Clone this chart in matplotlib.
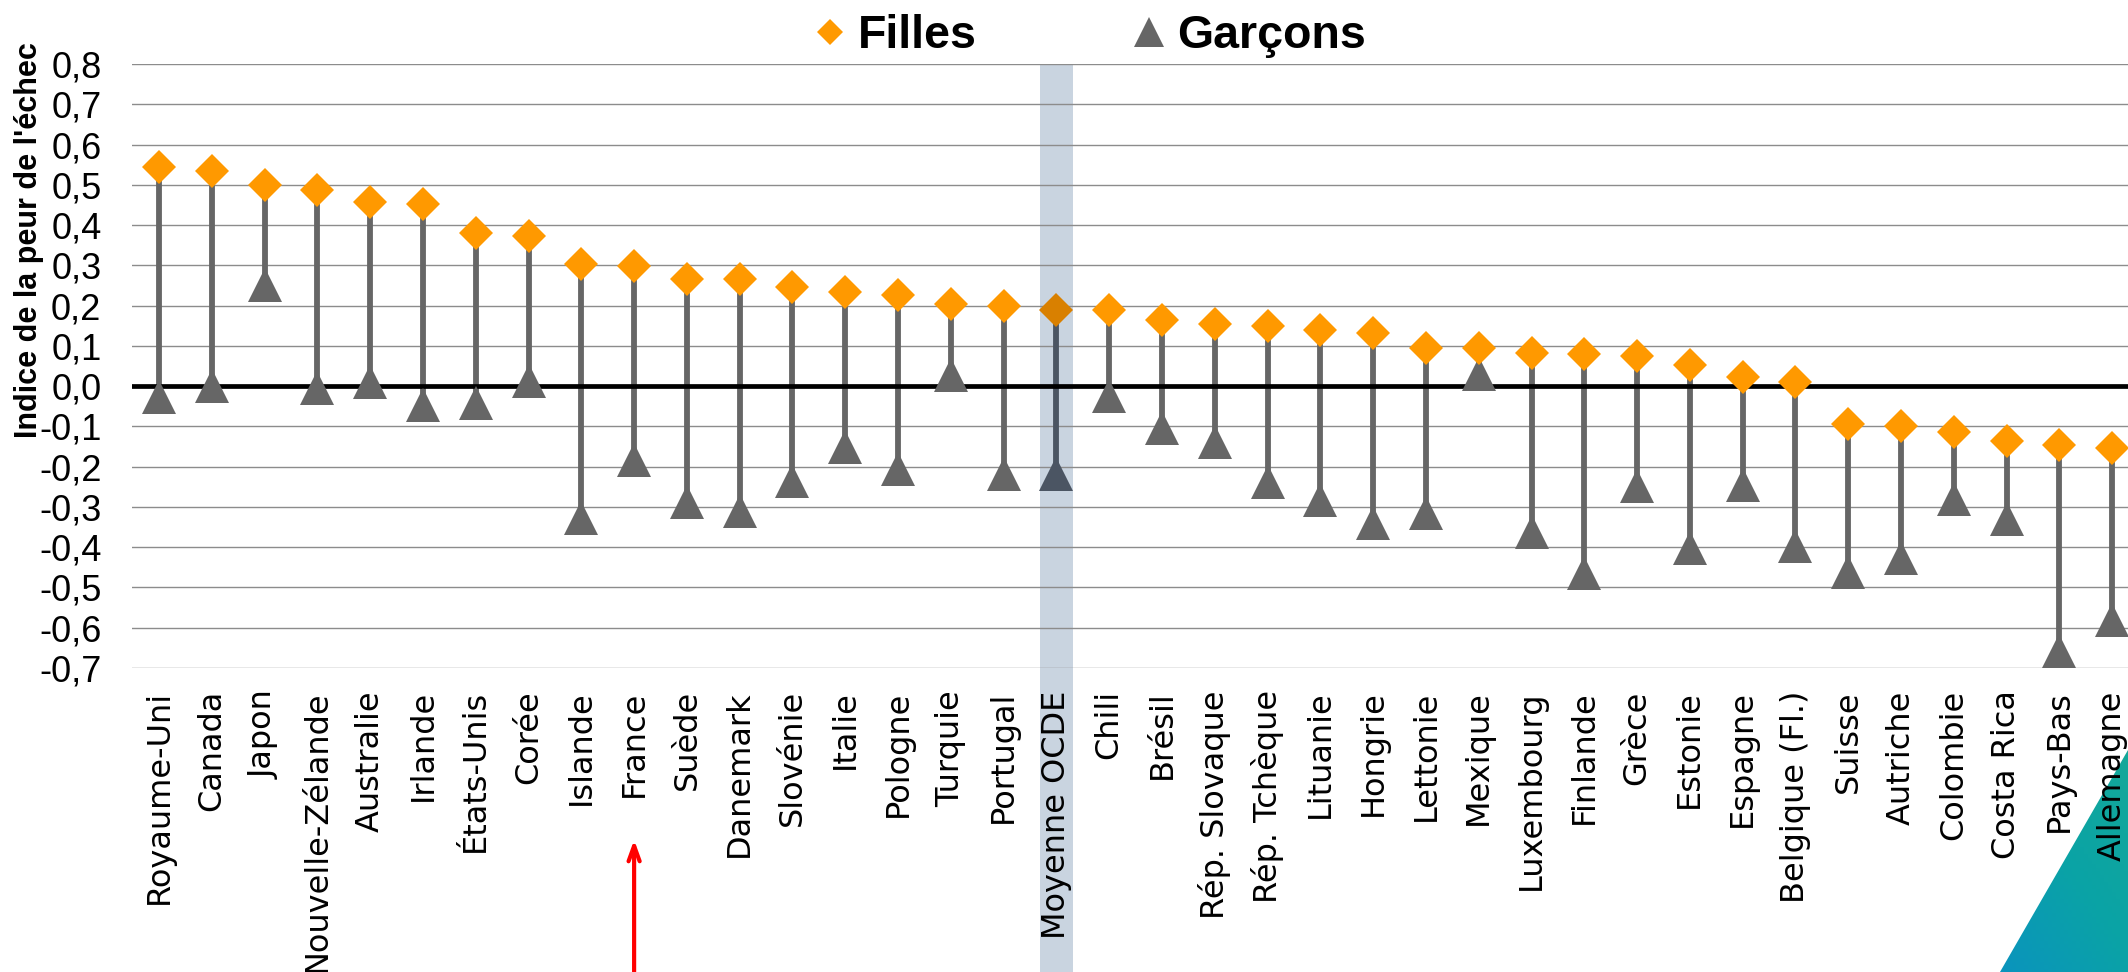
import numpy as np
import matplotlib
matplotlib.use("Agg")
import matplotlib.pyplot as plt
from matplotlib.lines import Line2D
from matplotlib.patches import Rectangle, Polygon
from matplotlib.ticker import FuncFormatter

# ---------------------------------------------------------------------------
# Data
# ---------------------------------------------------------------------------
pays = ["Royaume-Uni", "Canada", "Japon", "Nouvelle-Zélande", "Australie", "Irlande",
        "États-Unis", "Corée", "Islande", "France", "Suède", "Danemark", "Slovénie",
        "Italie", "Pologne", "Turquie", "Portugal", "Moyenne OCDE", "Chili", "Brésil",
        "Rép. Slovaque", "Rép. Tchèque", "Lituanie", "Hongrie", "Lettonie", "Mexique",
        "Luxembourg", "Finlande", "Grèce", "Estonie", "Espagne", "Belgique (Fl.)",
        "Suisse", "Autriche", "Colombie", "Costa Rica", "Pays-Bas", "Allemagne"]

filles = [0.545, 0.534, 0.500, 0.487, 0.457, 0.452, 0.381, 0.373, 0.303, 0.298,
          0.265, 0.265, 0.245, 0.233, 0.226, 0.205, 0.198, 0.189, 0.188, 0.164,
          0.155, 0.149, 0.139, 0.133, 0.095, 0.095, 0.083, 0.079, 0.076, 0.052,
          0.022, 0.010, -0.095, -0.099, -0.115, -0.137, -0.146, -0.153]

garcons = [-0.027, 0.000, 0.251, -0.004, 0.010, -0.047, -0.043, 0.012, -0.328, -0.183,
           -0.288, -0.309, -0.235, -0.152, -0.206, 0.027, -0.218, -0.217, -0.024, -0.104,
           -0.139, -0.237, -0.282, -0.340, -0.316, 0.031, -0.362, -0.465, -0.247, -0.403,
           -0.245, -0.398, -0.462, -0.428, -0.280, -0.329, -0.657, -0.582]

yticks = [0.8, 0.7, 0.6, 0.5, 0.4, 0.3, 0.2, 0.1, 0.0, -0.1, -0.2, -0.3, -0.4, -0.5, -0.6, -0.7]
moyenne = "Moyenne OCDE"
france = "France"

# ---------------------------------------------------------------------------
# Styles
# ---------------------------------------------------------------------------
ORANGE = "#ff9900"
ORANGE_DK = "#d98000"
GRIS = "#666666"
GRIS_DK = "#4b5563"
BANDE = "#c9d4e0"

W, H = 2128, 972
fig = plt.figure(figsize=(W / 100, H / 100), dpi=100)
ax = fig.add_axes([132 / W, 1 - 668 / H, 1 - 132 / W, (668 - 64) / H])

x = np.arange(len(pays))
f = np.array(filles)
g = np.array(garcons)
m = np.array([p == moyenne for p in pays])

# stems + markers
ax.vlines(x[~m], g[~m], f[~m], color=GRIS, lw=4.2, zorder=2)
ax.vlines(x[m], g[m], f[m], color=GRIS_DK, lw=4.2, zorder=2)
ax.axhline(0, color="black", lw=3.4, zorder=2.5)
ax.plot(x[~m], g[~m], ls="none", marker="^", ms=25, color=GRIS, mew=0, zorder=3)
ax.plot(x[m], g[m], ls="none", marker="^", ms=25, color=GRIS_DK, mew=0, zorder=3)
ax.plot(x[~m], f[~m], ls="none", marker="D", ms=17.8, color=ORANGE, mew=0, zorder=4)
ax.plot(x[m], f[m], ls="none", marker="D", ms=17.8, color=ORANGE_DK, mew=0, zorder=4)

# highlighted OECD band, running down through the labels
i_moy = pays.index(moyenne)
ax.add_patch(Rectangle((i_moy - 0.32, -0.52), 0.64, 1.52, transform=ax.get_xaxis_transform(),
                       facecolor=BANDE, edgecolor="none", clip_on=False, zorder=0.3))

ax.set_xlim(-0.512, len(pays) - 1 + 0.30)
ax.set_ylim(-0.7, 0.8)
ax.set_yticks(yticks)
ax.yaxis.set_major_formatter(FuncFormatter(lambda v, p: f"{v:.1f}".replace(".", ",")))
ax.set_xticks(x)
ax.set_xticklabels(pays, rotation=90, ha="center", va="top",
                   fontsize=23, family="DejaVu Sans")
for lab in ax.get_yticklabels():
    lab.set_fontsize(26)
    lab.set_family("Liberation Sans")
ax.tick_params(axis="y", length=0, pad=22)
ax.tick_params(axis="x", length=0, pad=16)
for s in ax.spines.values():
    s.set_visible(False)
ax.set_axisbelow(True)
ax.yaxis.grid(True, color="#8c8c8c", lw=1.0)

fig.text(29 / W, 1 - 240 / H, "Indice de la peur de l'échec", rotation=90,
         ha="center", va="center", fontsize=22, fontweight="bold", family="Liberation Sans")

# legend
handles = [Line2D([], [], ls="none", marker="D", ms=13.7, color=ORANGE, mew=0),
           Line2D([], [], ls="none", marker="^", ms=21, color=GRIS, mew=0)]
fig.legend(handles, ["Filles", "Garçons"], loc="center", bbox_to_anchor=(1091 / W, 1 - 36 / H),
           ncol=2, frameon=False, handlelength=0.6, handletextpad=0.3, columnspacing=3.4,
           prop={"family": "Liberation Sans", "weight": "bold", "size": 33.5})

# red arrow under France
i_fr = pays.index(france)
ax.annotate("", xy=(i_fr, -0.28), xycoords=ax.get_xaxis_transform(),
            xytext=(i_fr, -0.52), textcoords=ax.get_xaxis_transform(),
            arrowprops=dict(arrowstyle="->,head_length=1.1,head_width=0.4",
                            color="#ff0000", lw=3), annotation_clip=False)

# teal corner decoration (slide background)
corner = np.array([[2000, 972], [2128, 750], [2128, 972]], dtype=float)
corner[:, 0] /= W
corner[:, 1] = 1 - corner[:, 1] / H
cax = fig.add_axes([2000 / W, 0, 128 / W, (972 - 750) / H], zorder=-1)
cax.axis("off")
gy, gx = np.mgrid[0:1:64j, 0:1:32j]
grad = np.clip(0.55 * gy + 0.45 * gx, 0, 1)
cmap = matplotlib.colors.LinearSegmentedColormap.from_list("teal", ["#0b94bd", "#0aa3a6", "#14a899"])
im = cax.imshow(grad, cmap=cmap, aspect="auto", origin="lower", extent=[0, 1, 0, 1])
poly = Polygon(corner, closed=True, transform=fig.transFigure, facecolor="none", edgecolor="none")
fig.add_artist(poly)
im.set_clip_path(poly)

fig.savefig("out.png", dpi=100)
